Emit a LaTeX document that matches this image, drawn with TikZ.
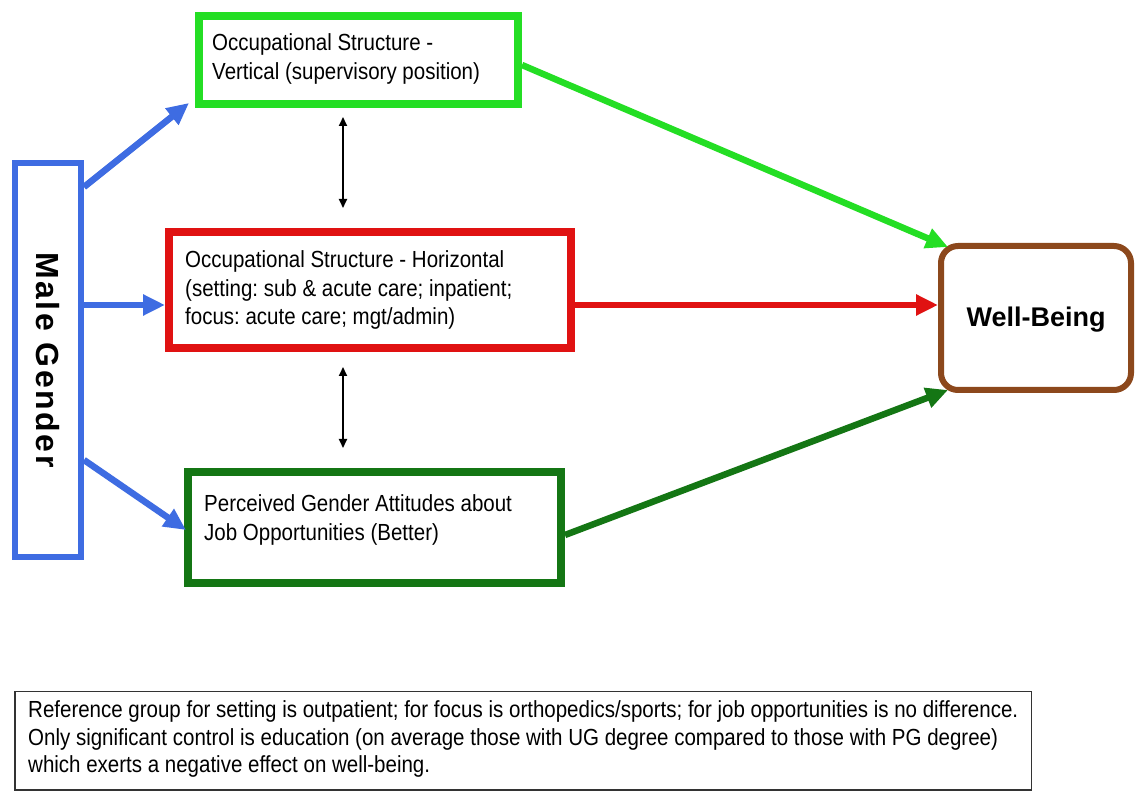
\documentclass[tikz,border=0pt]{standalone}
\usepackage{fontspec}
\setmainfont{Liberation Sans}
\newfontfamily\condfont{Liberation Sans}[FakeStretch=0.88]
\usetikzlibrary{arrows.meta}
\definecolor{cblue}{RGB}{62,108,226}
\definecolor{clgreen}{RGB}{36,222,36}
\definecolor{cred}{RGB}{224,18,18}
\definecolor{cdgreen}{RGB}{20,118,20}
\definecolor{cbrown}{RGB}{140,72,28}
\frenchspacing
\begin{document}
\begin{tikzpicture}[x=1pt,y=-1pt,
  boxbase/.style={draw,rectangle,inner sep=0pt,fill=white},
  txt/.style={font=\condfont\fontsize{23.3}{28.5}\selectfont,align=left,inner sep=0pt,anchor=west},
  fat/.style={line width=6.5pt,-{Triangle[length=22pt,width=20pt]}},
  dbl/.style={line width=1.8pt,{Triangle[length=9pt,width=8pt]}-{Triangle[length=9pt,width=8pt]}}
]
\useasboundingbox (0,0) rectangle (1136,791);
\fill[white] (0,0) rectangle (1136,791);
% boxes
\node[boxbase,draw=cblue,line width=6pt,minimum width=66pt,minimum height=394pt] (mg) at (48,360) {};
\node[rotate=-90,font=\fontsize{32}{34}\bfseries\addfontfeature{LetterSpace=8}] (mgt) at (mg.center) {Male Gender};
\node[boxbase,draw=clgreen,line width=8pt,minimum width=319pt,minimum height=88pt] (vert) at (358.5,60) {};
\node[txt] (vertt) at (212,59) {Occupational Structure -\\Vertical (supervisory position)};
\node[boxbase,draw=cred,line width=8pt,minimum width=402pt,minimum height=116pt] (hor) at (370,290) {};
\node[txt] (hort) at (185,290) {Occupational Structure - Horizontal\\(setting: sub \& acute care; inpatient;\\focus: acute care; mgt/admin)};
\node[boxbase,draw=cdgreen,line width=8pt,minimum width=373pt,minimum height=111pt] (att) at (374.5,527.5) {};
\node[txt] (attt) at (204,520) {Perceived Gender Attitudes about\\Job Opportunities (Better)};
\node[boxbase,draw=cbrown,line width=6pt,rounded corners=17pt,minimum width=190pt,minimum height=144pt] (wb) at (1036,318) {};
\node[font=\fontsize{27}{30}\bfseries] (wbt) at (1036,320) {Well-Being};
\node[boxbase,draw=black!80,line width=1.5pt,minimum width=1016.5pt,minimum height=98.5pt] (note) at (523,740.5) {};
\node[font=\condfont\fontsize{23.3}{27.5}\selectfont,align=left,inner sep=0pt,anchor=west] (notet) at (28,739) {Reference group for setting is outpatient; for focus is orthopedics/sports; for job opportunities is no difference.\\Only significant control is education (on average those with UG degree compared to those with PG degree)\\which exerts a negative effect on well-being.};
% arrows
\draw[fat,draw=cblue,fill=cblue] (mg.east |- 0,187) -- (189,103);
\draw[fat,draw=cblue,fill=cblue] (mg.east |- 0,305) -- (hor.west |- 0,305);
\draw[fat,draw=cblue,fill=cblue] (mg.east |- 0,460) -- (186,530);
\draw[dbl] (343,117) -- (343,208);
\draw[dbl] (343,367) -- (343,448);
\draw[fat,draw=clgreen,fill=clgreen] (vert.east |- 0,65) -- (948,247);
\draw[fat,draw=cred,fill=cred] (hor.east |- 0,305) -- (wb.west |- 0,305);
\draw[fat,draw=cdgreen,fill=cdgreen] (att.east |- 0,535) -- (948,390);
\end{tikzpicture}
\end{document}
